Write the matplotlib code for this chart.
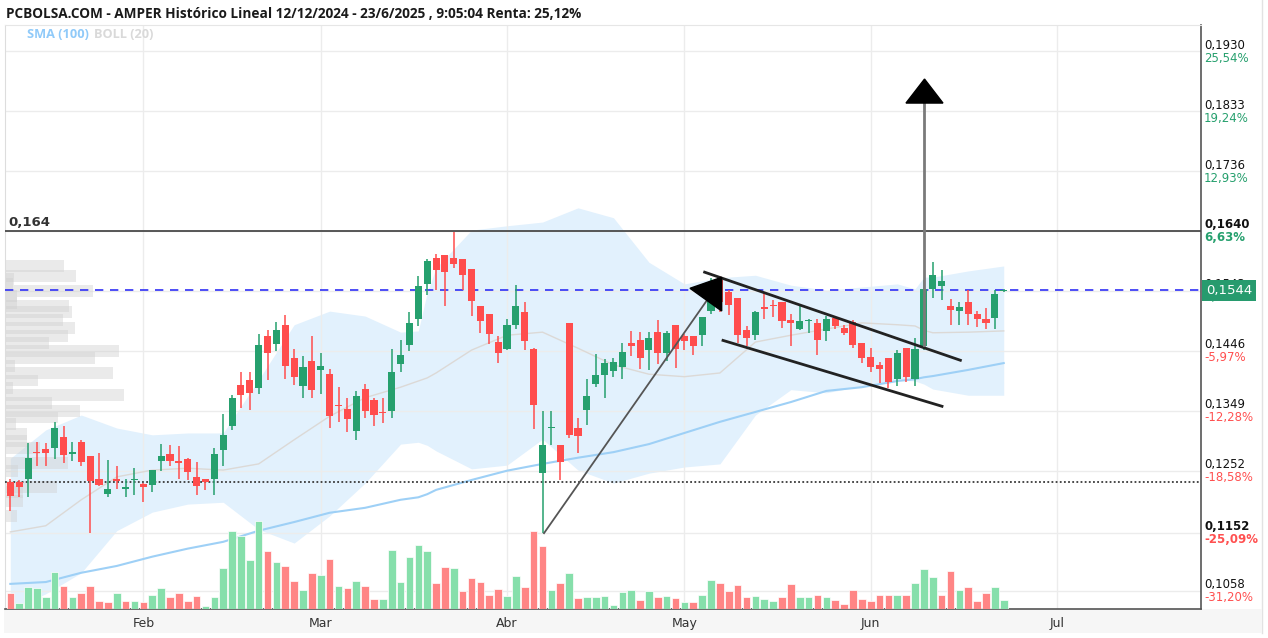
import numpy as np
import pandas as pd
import matplotlib
matplotlib.use("Agg")
import matplotlib.pyplot as plt
import matplotlib.transforms as mtransforms
from matplotlib.patches import Rectangle, Polygon
from matplotlib.lines import Line2D

# ---------------- data ----------------
holidays = ["2025-04-18", "2025-04-21", "2025-05-01"]
dates = pd.bdate_range("2025-01-13", "2025-06-23", freq="C", holidays=holidays)

opens = [.1234, .1233, .1239, .1283, .1287, .1288, .1307, .1280, .1299, .1275,
         .1238, .1215, .1239, .1223, .1237, .1230, .1229, .1267, .1279, .1267,
         .1271, .1242, .1238, .1239, .1286, .1324, .1390, .1398, .1385, .1469,
         .1457, .1487, .1435, .1389, .1430, .1415, .1408, .1358, .1352, .1316,
         .1384, .1366, .1347, .1349, .1425, .1455, .1498, .1554, .1596, .1601,
         .1596, .1594, .1578, .1519, .1505, .1460, .1449, .1488, .1509, .1449,
         .1249, .1321, .1293, .1491, .1321, .1350, .1392, .1407, .1413, .1420,
         .1459, .1463, .1447, .1477, .1443, .1488, .1469, .1469, .1471, .1510,
         .1560, .1541, .1532, .1480, .1471, .1516, .1520, .1524, .1495, .1481,
         .1494, .1491, .1478, .1499, .1483, .1493, .1459, .1436, .1423, .1435,
         .1401, .1451, .1401, .1454, .1545, .1551, .1519, .1510, .1524, .1505,
         .1498, .1499, .1542]
highs = [.1238, .1237, .1296, .1298, .1297, .1331, .1325, .1298, .1301, .1275,
         .1280, .1270, .1259, .1238, .1256, .1232, .1253, .1295, .1293, .1292,
         .1273, .1266, .1239, .1289, .1343, .1374, .1412, .1411, .1473, .1480,
         .1493, .1503, .1448, .1438, .1469, .1443, .1417, .1388, .1370, .1381,
         .1392, .1369, .1369, .1448, .1464, .1509, .1567, .1594, .1602, .1601,
         .1638, .1594, .1578, .1519, .1505, .1469, .1497, .1553, .1524, .1451,
         .1349, .1348, .1293, .1491, .1337, .1400, .1441, .1432, .1434, .1458,
         .1478, .1477, .1477, .1495, .1478, .1488, .1473, .1469, .1500, .1564,
         .1567, .1544, .1532, .1486, .1510, .1540, .1528, .1525, .1506, .1518,
         .1498, .1498, .1502, .1502, .1488, .1495, .1459, .1450, .1428, .1435,
         .1447, .1451, .1466, .1560, .1590, .1577, .1529, .1524, .1544, .1510,
         .1515, .1544, .1546]
lows = [.1187, .1209, .1210, .1259, .1259, .1271, .1264, .1268, .1260, .1151,
        .1228, .1209, .1222, .1210, .1213, .1201, .1218, .1252, .1260, .1239,
        .1237, .1213, .1221, .1213, .1259, .1318, .1353, .1350, .1376, .1399,
        .1446, .1401, .1390, .1369, .1370, .1376, .1321, .1331, .1315, .1302,
        .1337, .1325, .1329, .1338, .1411, .1446, .1486, .1536, .1544, .1519,
        .1579, .1544, .1502, .1474, .1457, .1426, .1447, .1481, .1447, .1319,
        .1152, .1293, .1237, .1305, .1281, .1326, .1388, .1370, .1403, .1401,
        .1437, .1416, .1415, .1424, .1429, .1418, .1447, .1439, .1453, .1505,
        .1509, .1504, .1458, .1453, .1464, .1498, .1501, .1482, .1454, .1480,
        .1474, .1439, .1462, .1481, .1471, .1450, .1426, .1412, .1393, .1385,
        .1389, .1395, .1389, .1447, .1531, .1528, .1488, .1488, .1488, .1484,
        .1481, .1481, .1541]
closes = [.1211, .1225, .1273, .1280, .1280, .1321, .1278, .1281, .1266, .1235,
          .1229, .1222, .1235, .1226, .1238, .1225, .1253, .1275, .1267, .1264,
          .1250, .1228, .1234, .1279, .1309, .1370, .1374, .1377, .1455, .1443,
          .1479, .1421, .1403, .1419, .1383, .1421, .1340, .1357, .1336, .1372,
          .1349, .1342, .1346, .1412, .1439, .1491, .1550, .1591, .1577, .1573,
          .1586, .1568, .1526, .1494, .1473, .1443, .1487, .1519, .1462, .1359,
          .1293, .1323, .1266, .1310, .1308, .1372, .1406, .1426, .1427, .1444,
          .1454, .1435, .1466, .1443, .1475, .1448, .1462, .1454, .1500, .1537,
          .1525, .1520, .1471, .1466, .1509, .1513, .1519, .1494, .1490, .1494,
          .1495, .1464, .1497, .1486, .1474, .1455, .1435, .1419, .1416, .1396,
          .1443, .1404, .1449, .1545, .1568, .1558, .1512, .1516, .1505, .1498,
          .1490, .1537, .1544]
volumes = [16, 5.7, 21.7, 20.7, 11.7, 37.3, 23.3, 11.7, 15.7, 23.3,
           8.3, 6.7, 15.7, 8.3, 8.3, 6.7, 14.3, 20.7, 11.7, 15.7,
           8.3, 13.3, 3.3, 11.7, 40.7, 78.3, 73.3, 49.3, 88.3, 58.3,
           46.7, 43.3, 28.3, 19.3, 35.7, 34.3, 49.7, 23.3, 20.7, 28.3,
           23.3, 9.7, 9.7, 59.3, 26.7, 51.7, 64.3, 58, 25.7, 41.7,
           40.7, 18.3, 30.7, 26.7, 14.3, 20, 13, 33.3, 21.7, 78.3,
           63, 19.3, 25.7, 35.7, 10.7, 11.7, 11.7, 13.3, 4.3, 16.7,
           19.3, 9.3, 18.3, 11.7, 13.3, 10.7, 6.7, 6.7, 14.3, 29.3,
           25.7, 18.3, 24.3, 11.7, 12.7, 10.3, 8.3, 11.7, 24.7, 11.7,
           11.7, 14.3, 11.7, 9, 5, 19.3, 10.3, 8.3, 14.3, 14.3,
           14.3, 14.3, 25.7, 40, 31.7, 14.3, 38.3, 19.3, 21.7, 8.3,
           15.7, 21.7, 9.3]
vol_up = [0, 1, 1, 1, 1, 1, 0, 1, 0, 0, 0, 0, 1, 0, 1, 0, 1, 1, 0, 0,
          0, 0, 1, 1, 1, 1, 1, 1, 1, 0, 1, 0, 0, 1, 0, 1, 0, 1, 0, 1,
          0, 0, 1, 1, 1, 1, 1, 1, 0, 0, 1, 0, 0, 0, 0, 0, 1, 1, 0, 0,
          0, 1, 0, 1, 0, 1, 1, 1, 1, 1, 1, 0, 1, 0, 1, 0, 1, 0, 1, 1,
          0, 0, 0, 0, 1, 1, 1, 0, 0, 1, 1, 0, 1, 0, 0, 0, 0, 0, 0, 0,
          1, 0, 1, 1, 1, 0, 0, 1, 0, 0, 0, 1, 1]

# Bollinger (20) and SMA (100) read at sample sessions
band_idx = [0, 4, 8, 12, 16, 20, 24, 28, 32, 36, 40, 44, 46, 47, 48, 52, 56, 60,
            64, 68, 72, 76, 80, 84, 88, 92, 96, 100, 102, 103, 104, 108, 112]
boll_upper = [.1272, .1318, .1342, .1321, .1310, .1313, .1313, .1399, .1488, .1510,
              .1502, .1476, .1478, .1540, .1580, .1641, .1648, .1654, .1677, .1661,
              .1589, .1554, .1564, .1568, .1552, .1544, .1549, .1554, .1546, .1565,
              .1565, .1575, .1583]
boll_mid = [.1153, .1163, .1205, .1242, .1253, .1256, .1253, .1263, .1302, .1340,
            .1370, .1387, .1397, .1402, .1410, .1447, .1471, .1476, .1450, .1423,
            .1408, .1404, .1410, .1460, .1471, .1481, .1491, .1488, .1486, .1479,
            .1475, .1476, .1478]
boll_lower = [.1027, .1053, .1087, .1155, .1185, .1198, .1201, .1157, .1135, .1179,
              .1232, .1295, .1298, .1293, .1284, .1255, .1261, .1303, .1253, .1232,
              .1248, .1258, .1263, .1342, .1383, .1378, .1389, .1399, .1397, .1392,
              .1384, .1374, .1374]
sma100 = [.1069, .1072, .1087, .1098, .1113, .1126, .1137, .1155, .1169, .1184,
          .1192, .1205, .1209, .1214, .1221, .1237, .1252, .1263, .1273, .1282,
          .1295, .1313, .1331, .1347, .1363, .1381, .1387, .1397, .1400, .1403,
          .1405, .1415, .1426]

# volume-at-price profile (left)
prof_price = [.1583, .1567, .1562, .1554, .1543, .1534, .1523, .1518, .1508, .1496,
              .1483, .1470, .1459, .1446, .1434, .1421, .1410, .1398, .1386, .1374,
              .1361, .1349, .1338, .1328, .1311, .1300, .1289, .1264, .1252, .1226,
              .1217, .1203, .1179]
prof_vol = [59, 71, 9, 8, 88, 12, 12, 64, 67, 58,
            70, 63, 44, 114, 90, 10, 108, 33, 8, 119,
            47, 75, 53, 11, 22, 22, 35, 63, 13, 52,
            18, 18, 12]

# price axis
tick_prices = [0.1930, 0.1833, 0.1736, 0.1640, 0.1543, 0.1446, 0.1349, 0.1252, 0.1152, 0.1058]
tick_pcts = ["25,54%", "19,24%", "12,93%", "6,63%", "0,32%", "-5,97%", "-12,28%",
             "-18,58%", "-25,09%", "-31,20%"]
tick_bold = [False, False, False, True, False, False, False, False, True, False]
month_names = ["Feb", "Mar", "Abr", "May", "Jun", "Jul"]

resistance = 0.164
ref_price = 0.1234

# drawings (session index, price)
up_shaft = ([60.17, 79.1], [0.1151, 0.1539])
up_head = [(76.63, 0.15469), (80.2, 0.15647), (80.2, 0.15102)]
chan_top = ([78.13, 107.26], [0.15737, 0.14298])
chan_bot = ([80.2, 105.19], [0.14633, 0.13555])
target_shaft = ([103.0, 103.0], [0.14552, 0.18464])
target_head = [(100.98, 0.18464), (105.15, 0.18464), (103.07, 0.18852)]

# ---------------- figure ----------------
W, H = 1268, 638
fig = plt.figure(figsize=(W / 100, H / 100), dpi=100)
fig.patch.set_facecolor("white")


def fx(px):
    return px / W


def fy(py):
    return 1 - py / H


AX_L, AX_R, AX_T, AX_B = 5, 1201, 25, 609
ax = fig.add_axes([fx(AX_L), fy(AX_B), (AX_R - AX_L) / W, (AX_B - AX_T) / H])

GREEN = "#26a06e"
RED = "#ff4d4d"
VGREEN = "#86dfab"
VRED = "#ff8585"

# bottom axis strip (behind the axes)
fig.patches.append(Rectangle((fx(4), fy(633)), (1262 - 4) / W, (633 - 609) / H,
                             transform=fig.transFigure, fc="#f6f6f6", ec="none", zorder=-5))
fig.lines.append(Line2D([fx(1262), fx(1262)], [fy(0), fy(633)], transform=fig.transFigure,
                        color="#e2e2e2", lw=1, zorder=-5))

idx = np.arange(len(closes))
O = np.array(opens); Hh = np.array(highs); L = np.array(lows); C = np.array(closes)

# Bollinger band
ax.fill_between(band_idx, boll_lower, boll_upper, color="#e2f1fd", lw=0, zorder=0.2)
ax.plot(band_idx, boll_mid, color="#dcd9d6", lw=1.0, zorder=0.9)
ax.plot(band_idx, sma100, color="#9ed0f6", lw=1.5, zorder=0.9)

# volume profile
trans = mtransforms.blended_transform_factory(ax.transAxes, ax.transData)
pmax = max(prof_vol)
for p, v in zip(prof_price, prof_vol):
    ax.add_patch(Rectangle((0, p - 0.00095), v / pmax * 0.0995, 0.0019, transform=trans,
                           fc="#cfcfcf", ec="none", alpha=0.42, zorder=1))

# reference lines
ax.axhline(resistance, color="#4a4a4a", lw=1.3, zorder=3)
ax.axhline(C[-1], color="#2f2ff5", lw=1.2, dashes=(5, 4), zorder=3)
ax.axhline(ref_price, color="#3a3a3a", lw=1.3, ls=(0, (1, 1.3)), zorder=3)

# candles
col = np.where(C >= O, GREEN, RED)
ax.vlines(idx, L, Hh, colors=col, lw=1.1, zorder=5)
body_h = np.maximum(np.abs(C - O), 0.00022)
body_b = (O + C) / 2 - body_h / 2
ax.bar(idx, body_h, bottom=body_b, width=0.8, color=col, lw=0, zorder=6)

# drawings
ax.plot(*up_shaft, color="#555555", lw=1.3, zorder=7)
ax.add_patch(Polygon(up_head, closed=True, fc="black", ec="black", lw=1, zorder=8))
ax.plot(*chan_top, color="#222222", lw=2, zorder=7, solid_capstyle="butt")
ax.plot(*chan_bot, color="#222222", lw=2, zorder=7, solid_capstyle="butt")
ax.plot(*target_shaft, color="#7a7a7a", lw=2, zorder=7)
ax.add_patch(Polygon(target_head, closed=True, fc="black", ec="black", lw=1, zorder=8))

ax.annotate("0,164", xy=(0, resistance), xycoords=trans, xytext=(2.3, 1.2),
            textcoords="offset points", ha="left", va="bottom", fontsize=9.5,
            weight="bold", color="#333333")

# limits
ax.set_xlim(-0.6, 134.24)
ax.set_ylim(0.10284, 0.19726)

# grid / ticks
ax.set_yticks(tick_prices)
ax.tick_params(axis="y", length=0, labelleft=False, labelright=False)
all_days = pd.bdate_range("2025-01-13", "2025-07-31", freq="C", holidays=holidays)
month_pos = []
for m in [2, 3, 4, 5, 6, 7]:
    month_pos.append(int(np.argmax(all_days.month == m)))
ax.set_xticks(month_pos)
ax.set_xticklabels(month_names)
ax.tick_params(axis="x", length=0, pad=6, labelsize=9, labelcolor="#333333")
ax.grid(True, color="#ececec", lw=1)
ax.set_axisbelow(True)
ax.spines["right"].set_color("#555555")
ax.spines["right"].set_linewidth(1.2)
ax.spines["bottom"].set_color("#555555")
ax.spines["bottom"].set_linewidth(1.2)
ax.spines["left"].set_color("#dddddd")
ax.spines["top"].set_color("#e6e6e6")

# right-hand price / percent labels
for v, pct, b in zip(tick_prices, tick_pcts, tick_bold):
    ax.annotate(f"{v:.4f}".replace(".", ","), xy=(1.0, v), xycoords=trans, xytext=(2.2, 4.4),
                textcoords="offset points", ha="left", va="center", fontsize=8.5,
                color="#111111", weight="bold" if b else "normal", annotation_clip=False)
    ax.annotate(pct, xy=(1.0, v), xycoords=trans, xytext=(2.2, -4.9),
                textcoords="offset points", ha="left", va="center", fontsize=8.5,
                color=GREEN if not pct.startswith("-") else "#ff5050",
                weight="bold" if b else "normal", annotation_clip=False)
ax.annotate(f"{C[-1]:.4f}".replace(".", ","), xy=(1.0, C[-1]), xycoords=trans, xytext=(3.5, 0),
            textcoords="offset points", ha="left", va="center", fontsize=9.5, color="white",
            bbox=dict(boxstyle="square,pad=0.3", fc="#279b6e", ec="none"), zorder=12,
            annotation_clip=False)

# volume
axv = ax.twinx()
axv.set_ylim(0, AX_B - AX_T)
vcol = [VGREEN if u else VRED for u in vol_up]
axv.bar(idx, volumes, width=0.86, color=vcol, edgecolor="white", lw=0.5, zorder=2)
axv.set_xlim(ax.get_xlim())
axv.axis("off")

# title / legend
fig.text(fx(6), fy(14), "PCBOLSA.COM - AMPER Histórico Lineal 12/12/2024 - 23/6/2025 , 9:05:04 Renta: 25,12%",
         fontsize=9.8, family="Open Sans", weight="bold", color="#1a1a1a", va="center")
fig.text(fx(27), fy(34), "SMA (100)", fontsize=9.2, weight="bold", color="#90caf9", va="center",
         family="Open Sans")
fig.text(fx(94), fy(34), "BOLL (20)", fontsize=9.2, weight="bold", color="#d9d9d9", va="center",
         family="Open Sans")

fig.savefig("out.png", dpi=100, facecolor="white")
